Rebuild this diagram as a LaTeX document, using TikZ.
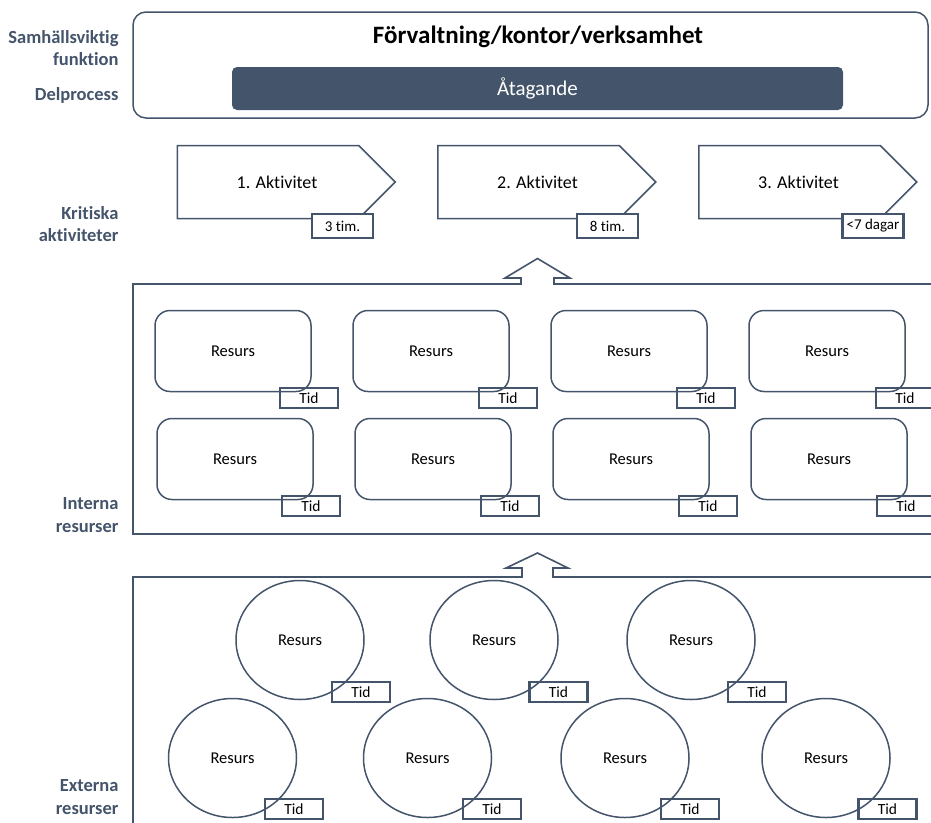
\documentclass[tikz,border=0pt]{standalone}
\usepackage{fontspec}
\setmainfont{Carlito}[Ligatures=NoCommon]
\usetikzlibrary{shapes.geometric, shapes.symbols, positioning}
\usepackage{xcolor}
\newcommand{\Resurs}{\fontsize{16.5}{19}\selectfont Resurs}
\newcommand{\Tid}{\fontsize{15.5}{18}\selectfont Tid}
\newcommand{\Tim}[1]{\fontsize{15}{18}\selectfont #1}
\definecolor{slate}{HTML}{44546A}

\begin{document}
\begin{tikzpicture}[x=1pt,y=-1pt,
  resurs/.style={draw=slate, line width=1.5pt, rounded corners=15pt,
    minimum width=156pt, minimum height=81pt},
  extern/.style={draw=slate, line width=1.5pt, ellipse,
    minimum width=128pt, minimum height=119pt},
  tidbox/.style={draw=slate, line width=2.3pt, inner sep=0pt,
    minimum width=58pt, minimum height=20pt},
  tidtext/.style={fill=white, inner sep=0pt},
  aktivitet/.style={draw=slate, line width=1.5pt, signal, signal to=east,
    signal pointer angle=90, minimum width=218pt, minimum height=73pt,
    font=\fontsize{18}{22}\selectfont},
  sida/.style={anchor=east, align=right, text=slate,
    font=\fontsize{18.5}{22.5}\selectfont\bfseries}]
  \useasboundingbox (0,0) rectangle (931,822);
  \clip (0,0) rectangle (931,822);

  \node[sida] (L1) at (122, 48) {Samhällsviktig\\funktion};
  \node[sida] (L2) at (122, 95) {Delprocess};
  \node[sida] (L3) at (122, 224) {Kritiska\\aktiviteter};
  \node[sida] (L4) at (122, 515) {Interna\\resurser};
  \node[sida] (L5) at (122, 797) {Externa\\resurser};

  \node[draw=slate, line width=1.5pt, rounded corners=13pt,
    minimum width=795pt, minimum height=106pt] (F) at (530.5, 65) {};
  \node[font=\fontsize{25}{29}\selectfont\bfseries] (FT) at (538, 37)
    {Förvaltning/kontor/verksamhet};
  \node[fill=slate, rounded corners=5pt, text=white, minimum width=611pt,
    minimum height=43pt, font=\fontsize{21}{25}\selectfont] (AT) at (537.5, 88.5)
    {Åtagande};

  \node[aktivitet] (A1) at (268, 182) {\hspace*{18pt}1. Aktivitet};
  \node[aktivitet] (A2) at (528.5, 182) {\hspace*{18pt}2. Aktivitet};
  \node[aktivitet] (A3) at (789.5, 182) {\hspace*{18pt}3. Aktivitet};
  \node[tidbox, fill=white, minimum width=61pt, minimum height=24pt] (D1) at (342.5, 226) {};
  \node[tidbox, fill=white, minimum width=61pt, minimum height=24pt] (D2) at (607.5, 226) {};
  \node[tidbox, fill=white, minimum width=61pt, minimum height=24pt] (D3) at (873, 226) {};
  \node[tidtext] (DT1) at (D1) {\Tim{3 tim.}};
  \node[tidtext] (DT2) at (D2) {\Tim{8 tim.}};
  \node[tidtext] (DT3) at (D3) {\Tim{<7 dagar}};

  \draw[slate, line width=1.6pt] (133,284) -- (521,284) -- (521,278) -- (505,278)
    -- (537.5,258.5) -- (570,278) -- (554,278) -- (554,284) -- (945,284)
    -- (945,534) -- (133,534) -- cycle;
  \draw[slate, line width=1.6pt] (133,577) -- (522,577) -- (522,568) -- (506,568)
    -- (537.5,553) -- (568,568) -- (553,568) -- (553,577) -- (945,577)
    -- (945,835) -- (133,835) -- cycle;

  \node[resurs] (IR1) at (233, 351) {\Resurs};
  \node[resurs] (IR2) at (431, 351) {\Resurs};
  \node[resurs] (IR3) at (629, 351) {\Resurs};
  \node[resurs] (IR4) at (827, 351) {\Resurs};
  \node[resurs] (IR5) at (235, 459) {\Resurs};
  \node[resurs] (IR6) at (433, 459) {\Resurs};
  \node[resurs] (IR7) at (631, 459) {\Resurs};
  \node[resurs] (IR8) at (829, 459) {\Resurs};
  \node[tidbox] (IT1) at (309, 398) {\Tid};
  \node[tidbox] (IT2) at (508, 398) {\Tid};
  \node[tidbox] (IT3) at (706, 398) {\Tid};
  \node[tidbox] (IT4) at (905, 398) {\Tid};
  \node[tidbox] (IT5) at (311, 506) {\Tid};
  \node[tidbox] (IT6) at (510, 506) {\Tid};
  \node[tidbox] (IT7) at (708, 506) {\Tid};
  \node[tidbox] (IT8) at (906, 506) {\Tid};

  \node[extern] (ER1) at (300, 640) {\Resurs};
  \node[extern] (ER2) at (494, 640) {\Resurs};
  \node[extern] (ER3) at (691, 640) {\Resurs};
  \node[extern] (ER4) at (232.5, 758) {\Resurs};
  \node[extern] (ER5) at (427.5, 758) {\Resurs};
  \node[extern] (ER6) at (625, 758) {\Resurs};
  \node[extern] (ER7) at (826, 758) {\Resurs};
  \node[tidbox] (ET1) at (361, 692) {\Tid};
  \node[tidbox] (ET2) at (558.5, 692) {\Tid};
  \node[tidbox] (ET3) at (757, 692) {\Tid};
  \node[tidbox] (ET4) at (294, 809) {\Tid};
  \node[tidbox] (ET5) at (492, 809) {\Tid};
  \node[tidbox] (ET6) at (690, 809) {\Tid};
  \node[tidbox] (ET7) at (887.5, 809) {\Tid};
\end{tikzpicture}
\end{document}
